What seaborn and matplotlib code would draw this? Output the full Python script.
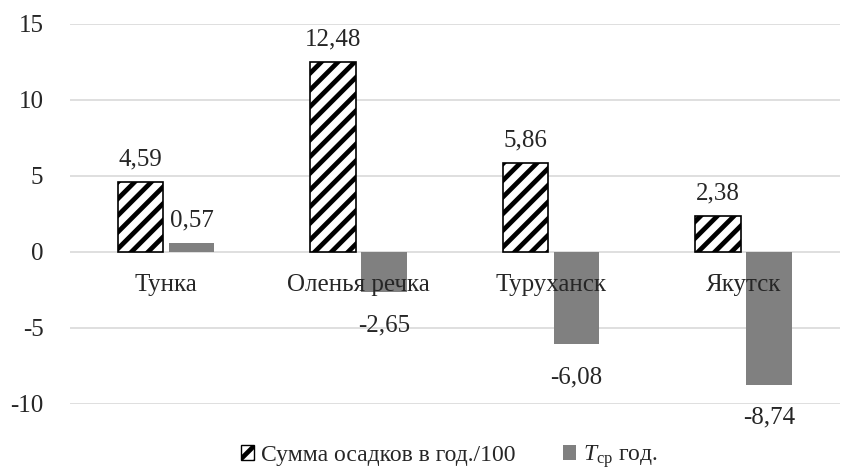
import matplotlib
matplotlib.use("Agg")
import matplotlib.pyplot as plt
import matplotlib.patches as mpatches
import seaborn as sns
import pandas as pd

stations = ["Тунка", "Оленья речка", "Туруханск", "Якутск"]
precip = [4.59, 12.48, 5.86, 2.38]   # annual precipitation / 100
temp = [0.57, -2.65, -6.08, -8.74]   # mean annual temperature
series_names = ["Сумма осадков в год./100", r"$T_{\mathrm{ср}}$ год."]
yticks = [-10, -5, 0, 5, 10, 15]

sns.set_theme(style="whitegrid")
plt.rcParams["font.family"] = ["Liberation Serif", "DejaVu Serif"]
plt.rcParams["mathtext.fontset"] = "custom"
plt.rcParams["mathtext.rm"] = "Liberation Serif"
plt.rcParams["mathtext.it"] = "Liberation Serif:italic"
plt.rcParams["hatch.linewidth"] = 3.4
plt.rcParams["hatch.color"] = "black"

FS = 18

df = pd.DataFrame({
    "station": stations * 2,
    "value": precip + temp,
    "series": [series_names[0]] * len(stations) + [series_names[1]] * len(stations),
})

fig = plt.figure(figsize=(8.51, 4.69), dpi=100)
ax = fig.add_axes([0.082, 0.139, 0.905, 0.81])

sns.barplot(data=df, x="station", y="value", hue="series",
            palette=["white", "#808080"], width=0.53, gap=0.11,
            saturation=1, legend=False, ax=ax, zorder=2)

n = len(stations)
hatched = ax.patches[:n]
solid = ax.patches[n:2 * n]
for p in hatched:
    p.set_hatch("//")
    p.set_edgecolor("black")
    p.set_linewidth(1.2)
for p in solid:
    p.set_edgecolor("none")
    p.set_linewidth(0)

def fmt(v):
    return f"{v:.2f}".replace(".", ",")

# value labels: above positive bars, below negative ones (offsets in points)
for bars, vals in ((hatched, precip), (solid, temp)):
    for p, v in zip(bars, vals):
        xc = p.get_x() + p.get_width() / 2
        dy = 12 if v >= 0 else -28
        ax.annotate(fmt(v), xy=(xc, v), xytext=(0, dy), textcoords="offset points",
                    ha="center", va="baseline", fontsize=FS, zorder=5,
                    annotation_clip=False)

ax.set_ylim(-10, 15)
ax.set_yticks(yticks)
ax.set_yticklabels([str(t) for t in yticks], fontsize=FS)
ax.tick_params(axis="y", pad=19, length=0)
ax.yaxis.grid(True, color="#d9d9d9", linewidth=1.2)
ax.xaxis.grid(False)
ax.set_xlim(-0.5, n - 0.5)
ax.set_xticks([])
ax.set_xlabel("")
ax.set_ylabel("")
for s in ax.spines.values():
    s.set_visible(False)

# station names sit under the zero line
for i, name in enumerate(stations):
    ax.annotate(name, xy=(i, 0), xytext=(0, -28), textcoords="offset points",
                ha="center", va="baseline", fontsize=FS, zorder=5)

handles = [
    mpatches.Patch(facecolor="white", edgecolor="black", hatch="//", linewidth=1.0,
                   label=series_names[0]),
    mpatches.Patch(facecolor="#808080", edgecolor="none", label=series_names[1]),
]
fig.legend(handles=handles, loc="lower center", bbox_to_anchor=(0.528, -0.048),
           ncol=2, frameon=False, fontsize=17, handlelength=0.55, handleheight=0.55,
           handletextpad=0.3, columnspacing=2.0)

fig.savefig("out.png", dpi=100)
